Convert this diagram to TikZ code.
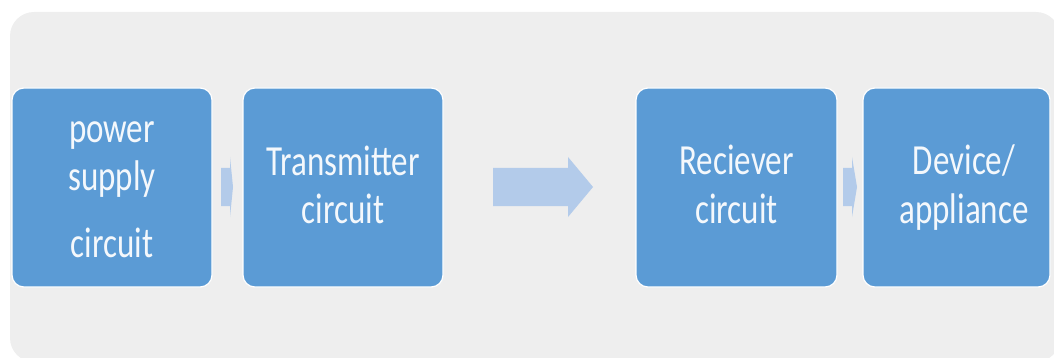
\documentclass[tikz,border=0pt]{standalone}
\usepackage{fontspec}
\setmainfont{Carlito}
\definecolor{panel}{HTML}{EEEEEE}
\definecolor{stage}{HTML}{5B9BD5}
\definecolor{flow}{HTML}{B3CBEA}
\definecolor{caption}{HTML}{F4F8FC}
% block arrow: #1 tail x, #2 neck x, #3 tip x (shaft 168..206, head 157..217)
\newcommand\blockarrow[3]{%
  \fill[flow] (#1,168) -- (#2,168) -- (#2,157) -- (#3,187) -- (#2,217) -- (#2,206) -- (#1,206) -- cycle;}
\begin{document}
\begin{tikzpicture}[x=1pt,y=-1pt,
  stagebox/.style={draw=white, line width=1.2pt, fill=stage, rounded corners=12pt,
    inner sep=0pt, minimum height=199pt},
  stagetext/.style={text=caption, font=\fontsize{33}{40}\selectfont, anchor=base, inner sep=0pt}]
\useasboundingbox (0,0) rectangle (1054,358);
\clip (0,0) rectangle (1054,358);
% panel behind the chain
\fill[panel, rounded corners=24pt] (10,12) rectangle (1060,362);

% stages
\node[stagebox, minimum width=200pt] (psu) at (112,187.5) {};
\node[stagebox, minimum width=200pt] (tx)  at (343,187.5) {};
\node[stagebox, minimum width=201pt] (rx)  at (736.5,187.5) {};
\node[stagebox, minimum width=187pt] (dev) at (956.5,187.5) {};

% stage captions
\node[stagetext] (psuA) at (112,143) {\scalebox{1}[1.3]{power}};
\node[stagetext] (psuB) at (112,190) {\scalebox{1}[1.3]{supply}};
\node[stagetext] (psuC) at (112,257) {\scalebox{1}[1.3]{circuit}};
\node[stagetext] (txA) at (343,176) {\scalebox{1}[1.3]{Transmitter}};
\node[stagetext] (txB) at (343,223) {\scalebox{1}[1.3]{circuit}};
\node[stagetext] (rxA) at (736.5,175) {\scalebox{1}[1.3]{Reciever}};
\node[stagetext] (rxB) at (736.5,223) {\scalebox{1}[1.3]{circuit}};
\node[stagetext] (devA) at (964,175) {\scalebox{1}[1.3]{Device/}};
\node[stagetext] (devB) at (964,223) {\scalebox{1}[1.3]{appliance}};

% flow arrows
\blockarrow{221}{230}{233}
\blockarrow{493}{568}{593}
\blockarrow{843}{852}{857}
\end{tikzpicture}
\end{document}
